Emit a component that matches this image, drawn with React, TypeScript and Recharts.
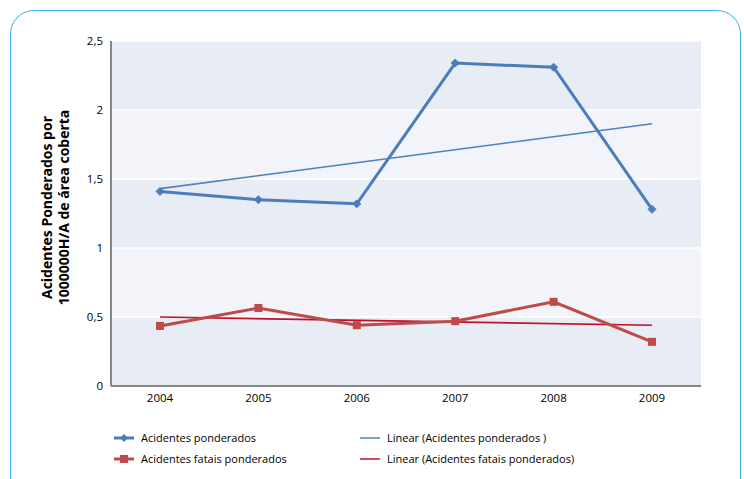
import React from "react";
import { LineChart, Line, XAxis, YAxis, CartesianGrid } from "recharts";

const years = ["2004", "2005", "2006", "2007", "2008", "2009"];
const acidentes = [1.41, 1.35, 1.32, 2.34, 2.31, 1.28];
const fatais = [0.435, 0.565, 0.44, 0.47, 0.61, 0.32];
// trend line end points
const trendAcidentes = [1.43, null, null, null, null, 1.9];
const trendFatais = [0.5, null, null, null, null, 0.44];
const yTicks = [0, 0.5, 1, 1.5, 2, 2.5];

const data = years.map((year, i) => ({
    year,
    acidentes: acidentes[i],
    fatais: fatais[i],
    trendA: trendAcidentes[i],
    trendF: trendFatais[i],
}));

const BLUE = "#4A7EBB";
const RED = "#BE4B48";
const TREND_BLUE = "#4F81BD";
const TREND_RED = "#C0102A";
const FONT = "'Open Sans', 'Noto Sans', sans-serif";

const Diamond = (props: any) => {
    const { cx, cy, index } = props;
    if (cx == null || cy == null) return null;
    const r = 4;
    return (
        <path
            key={`d-${index}`}
            d={`M${cx},${cy - r} L${cx + r},${cy} L${cx},${cy + r} L${cx - r},${cy} Z`}
            fill={BLUE}
            stroke={BLUE}
        />
    );
};

const Square = (props: any) => {
    const { cx, cy, index } = props;
    if (cx == null || cy == null) return null;
    return <rect key={`s-${index}`} x={cx - 4} y={cy - 4} width={8} height={8} fill={RED} />;
};

const AxisTitle = (props: any) => {
    const vb = props.viewBox || {};
    const cy = vb.y + vb.height / 2 - 6;
    return (
        <g>
            <text
                x={46}
                y={cy}
                transform={`rotate(-90, 46, ${cy})`}
                textAnchor="middle"
                dominantBaseline="central"
                fontFamily={FONT}
                fontWeight="bold"
                fontSize={14}
                fill="#000"
            >
                Acidentes Ponderados por
            </text>
            <text
                x={63}
                y={cy}
                transform={`rotate(-90, 63, ${cy})`}
                textAnchor="middle"
                dominantBaseline="central"
                fontFamily={FONT}
                fontWeight="bold"
                fontSize={14}
                fill="#000"
            >
                1000000H/A de área coberta
            </text>
        </g>
    );
};

const LegendItem = ({ color, marker, label, width }: { color: string; marker: string; label: string; width: number }) => (
    <div style={{ display: "flex", alignItems: "center", width, height: 21 }}>
        <svg width={24} height={10} style={{ marginRight: 5 }}>
            <line x1={2} y1={5} x2={22} y2={5} stroke={color} strokeWidth={marker === "none" ? 1.5 : 3} />
            {marker === "diamond" && <path d="M12,1 L16,5 L12,9 L8,5 Z" fill={color} />}
            {marker === "square" && <rect x={8} y={1} width={8} height={8} fill={color} />}
        </svg>
        <span>{label}</span>
    </div>
);

export default function App() {
    return (
        <div style={{ position: "absolute", left: 0, top: 0, width: 744, height: 479, overflow: "hidden", background: "#fff" }}>
            <div
                style={{
                    position: "absolute",
                    left: 10,
                    top: 10,
                    width: 731,
                    height: 500,
                    border: "1.5px solid #3AB0E6",
                    borderRadius: 24,
                    boxSizing: "border-box",
                }}
            />
            <div style={{ position: "absolute", left: 0, top: 0 }}>
                <LineChart width={744} height={479} data={data} margin={{ top: 41, right: 43, left: 0, bottom: 68 }}>
                    <CartesianGrid
                        vertical={false}
                        stroke="#ffffff"
                        strokeWidth={1.5}
                        horizontalFill={["#E8ECF5", "#F2F4FA"]}
                        fillOpacity={1}
                    />
                    <XAxis
                        dataKey="year"
                        height={25}
                        padding={{ left: 49, right: 49 }}
                        axisLine={{ stroke: "#868686", strokeWidth: 2 }}
                        tickLine={false}
                        tickSize={0}
                        tickMargin={8}
                        tick={{ fontSize: 11.5, fill: "#000", fontFamily: FONT }}
                    />
                    <YAxis
                        width={111}
                        domain={[0, 2.5]}
                        ticks={yTicks}
                        interval={0}
                        axisLine={{ stroke: "#868686", strokeWidth: 2 }}
                        tickLine={false}
                        tickSize={0}
                        tickMargin={8}
                        tick={{ fontSize: 11.5, fill: "#000", fontFamily: FONT }}
                        tickFormatter={(v: number) => String(v).replace(".", ",")}
                        label={{ content: AxisTitle }}
                    />
                    <Line
                        dataKey="trendA"
                        stroke={TREND_BLUE}
                        strokeWidth={1.6}
                        dot={false}
                        connectNulls
                        isAnimationActive={false}
                    />
                    <Line
                        dataKey="trendF"
                        stroke={TREND_RED}
                        strokeWidth={1.6}
                        dot={false}
                        connectNulls
                        isAnimationActive={false}
                    />
                    <Line
                        dataKey="acidentes"
                        stroke={BLUE}
                        strokeWidth={3}
                        dot={Diamond}
                        isAnimationActive={false}
                    />
                    <Line
                        dataKey="fatais"
                        stroke={RED}
                        strokeWidth={3}
                        dot={Square}
                        isAnimationActive={false}
                    />
                </LineChart>
            </div>
            <div
                style={{
                    position: "absolute",
                    left: 112,
                    top: 427,
                    fontFamily: FONT,
                    fontSize: 11,
                    color: "#000",
                    display: "grid",
                    gridTemplateColumns: "246px 300px",
                }}
            >
                <LegendItem color={BLUE} marker="diamond" label="Acidentes ponderados" width={246} />
                <LegendItem color={TREND_BLUE} marker="none" label="Linear (Acidentes ponderados )" width={300} />
                <LegendItem color={RED} marker="square" label="Acidentes fatais ponderados" width={246} />
                <LegendItem color={TREND_RED} marker="none" label="Linear (Acidentes fatais ponderados)" width={300} />
            </div>
        </div>
    );
}
